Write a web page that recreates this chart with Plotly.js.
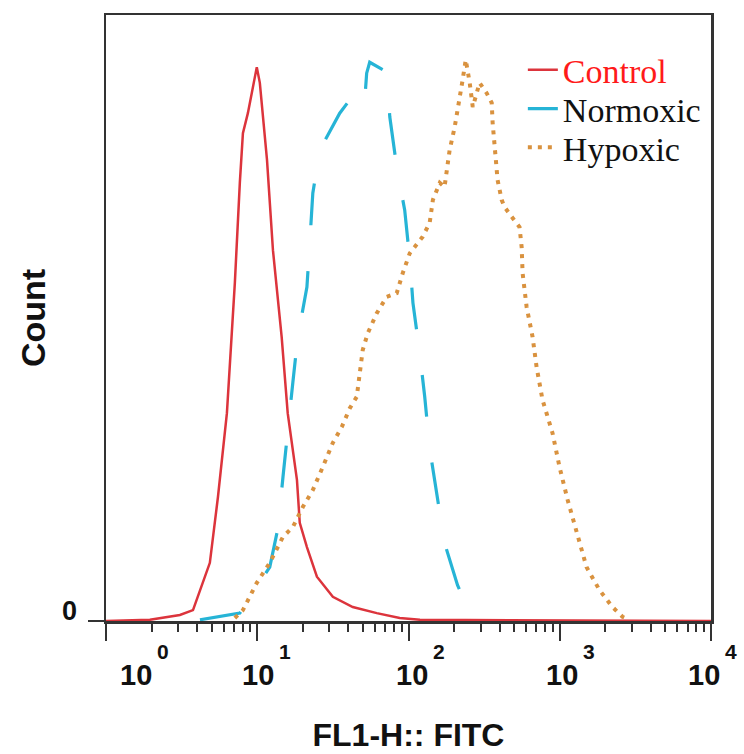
<!DOCTYPE html>
<html>
<head>
<meta charset="utf-8">
<script src="https://cdn.plot.ly/plotly-3.0.1.min.js"></script>
<style>
  html, body { margin: 0; padding: 0; background: #fff; }
  #chart { width: 744px; height: 754px; }
</style>
</head>
<body>
<div id="chart"></div>
<script>
// ---- data (FL1-H fluorescence, relative count) ----
const seriesNames = ['Control', 'Normoxic', 'Hypoxic'];

const fl1Control = [1, 1.95, 3.08, 3.76, 4.86, 5.50, 6.30, 6.79, 7.11, 7.67, 8.04, 8.67, 9.93, 10.4, 11.6, 12.7, 14.5, 15.9, 18.3, 19.1, 21.3, 24.8, 31.6, 42.8, 61.7, 87.5, 119, 10000];
const countControl = [0, 0.2, 1.0, 1.8, 9.6, 20.5, 34.3, 48.0, 55.8, 72.3, 80.5, 83.8, 91.4, 88.8, 76.1, 61.2, 46.9, 34.3, 23.3, 16.2, 12.2, 7.3, 4.0, 2.3, 1.3, 0.5, 0.2, 0];

const fl1Normoxic = [4.18, 5.66, 7.67, 12.1, 13.7, 14.8, 15.9, 17.2, 18.5, 21.3, 22.2, 23.3, 25.9, 35.1, 40.9, 44.2, 46.2, 51.4, 52.9, 55.4, 71.8, 75.2, 83.6, 94.4, 102, 107, 119, 128, 138, 154, 173, 211, 254, 295];
const countNormoxic = [0.2, 0.7, 1.3, 8.9, 15.3, 23.8, 30.7, 39.4, 46.7, 55.1, 62.0, 70.6, 77.7, 83.8, 86.0, 88.1, 86.8, 86.0, 90.4, 92.2, 90.6, 83.2, 74.9, 67.8, 59.6, 52.5, 43.9, 37.0, 28.5, 21.3, 12.9, 5.9, 1.5, 0.2];

const fl1Hypoxic = [7.11, 8.04, 9.93, 12.1, 14.8, 17.2, 20.0, 23.3, 27.1, 31.6, 36.2, 40.9, 45.5, 47.6, 49.8, 53.8, 61.7, 71.8, 83.6, 91.6, 102, 124, 138, 145, 161, 173, 179, 187, 202, 218, 228, 239, 254, 266, 282, 295, 329, 355, 360, 371, 388, 413, 432, 481, 542, 560, 568, 604, 661, 703, 769, 896, 997, 1127, 1292, 1503, 1832, 2232, 2600, 2890];
const countHypoxic = [0.5, 1.8, 6.3, 9.6, 13.9, 15.5, 18.8, 21.6, 25.4, 29.4, 32.0, 35.1, 37.0, 40.9, 44.7, 47.5, 50.8, 53.5, 54.1, 57.4, 60.7, 63.4, 65.7, 69.5, 72.3, 71.6, 73.9, 77.7, 81.5, 86.0, 89.3, 92.6, 88.8, 84.8, 87.1, 88.8, 87.1, 85.5, 82.2, 77.7, 72.8, 69.5, 68.3, 66.7, 65.0, 61.7, 57.4, 51.8, 46.9, 41.9, 36.5, 31.0, 25.4, 20.0, 14.5, 8.9, 5.1, 2.3, 0.7, 0.2];

const xTickVals = [1, 10, 100, 1000, 10000];
const xTickBase = ['10', '10', '10', '10', '10'];
const xTickExp = ['0', '1', '2', '3', '4'];
const yTickVals = [0];
const yTickText = ['0'];

const xTitle = 'FL1-H:: FITC';
const yTitle = 'Count';

// ---- presentation ----
const boldFont = { family: 'Liberation Sans, Arial, sans-serif', weight: 'bold', color: '#111' };
const baseShift = [30, 1, 3, 2, -7];
const legendFont = { family: 'Liberation Serif, Times New Roman, serif', size: 34, color: '#111' };
const legendRows = [0.909, 0.845, 0.781];

const traces = [
  { x: fl1Control, y: countControl, type: 'scatter', mode: 'lines',
    name: '<span style="color:#ff1a1a">' + seriesNames[0] + '</span>', legend: 'legend',
    line: { color: '#dc343c', width: 2.5 } },
  { x: fl1Normoxic, y: countNormoxic, type: 'scatter', mode: 'lines',
    name: seriesNames[1], legend: 'legend2',
    line: { color: '#26b4d6', width: 3.2, dash: '42px,46px' } },
  { x: fl1Hypoxic, y: countHypoxic, type: 'scatter', mode: 'lines',
    name: seriesNames[2], legend: 'legend3',
    line: { color: '#d9923f', width: 4, dash: '4px,6px' } }
];

const annotations = [];
xTickVals.forEach((v, i) => {
  annotations.push({
    xref: 'x', yref: 'paper', x: Math.log10(v), y: 0,
    text: xTickBase[i], showarrow: false,
    xanchor: 'center', yanchor: 'middle', xshift: baseShift[i], yshift: -54,
    font: Object.assign({ size: 29 }, boldFont)
  });
  annotations.push({
    xref: 'x', yref: 'paper', x: Math.log10(v), y: 0,
    text: xTickExp[i], showarrow: false,
    xanchor: 'left', yanchor: 'middle', xshift: baseShift[i] + 19, yshift: -30,
    font: Object.assign({ size: 21 }, boldFont)
  });
});

function legendAt(row) {
  return {
    x: 0.689, y: legendRows[row], xanchor: 'left', yanchor: 'middle',
    bgcolor: 'rgba(0,0,0,0)', borderwidth: 0, font: legendFont
  };
}

const layout = {
  width: 744, height: 754,
  margin: { l: 106, r: 33, t: 15, b: 133 },
  paper_bgcolor: '#fff', plot_bgcolor: '#fff',
  showlegend: true,
  legend: legendAt(0),
  legend2: legendAt(1),
  legend3: legendAt(2),
  xaxis: {
    type: 'log', range: [0, 4],
    showgrid: false, zeroline: false,
    showline: true, mirror: true, linecolor: '#333', linewidth: 2.5,
    tickmode: 'array', tickvals: xTickVals, showticklabels: false,
    ticks: 'outside', ticklen: 17, tickwidth: 2, tickcolor: '#333',
    minor: { ticks: 'outside', ticklen: 8, tickwidth: 2, tickcolor: '#333', dtick: 'D1', showgrid: false },
    title: { text: xTitle, standoff: 84, font: Object.assign({ size: 32 }, boldFont) },
    automargin: false
  },
  yaxis: {
    range: [0, 100],
    showgrid: false, zeroline: false,
    showline: true, mirror: true, linecolor: '#333', linewidth: 2.5,
    tickmode: 'array', tickvals: yTickVals, ticktext: yTickText,
    ticks: 'outside', ticklen: 16, tickwidth: 2, tickcolor: '#333',
    ticklabelstandoff: 5, ticklabelshift: -10,
    tickfont: Object.assign({ size: 27 }, boldFont),
    title: { text: yTitle, standoff: 6, font: Object.assign({ size: 34 }, boldFont) },
    automargin: false
  },
  annotations: annotations
};

Plotly.newPlot('chart', traces, layout, { displayModeBar: false, staticPlot: true });
</script>
</body>
</html>
